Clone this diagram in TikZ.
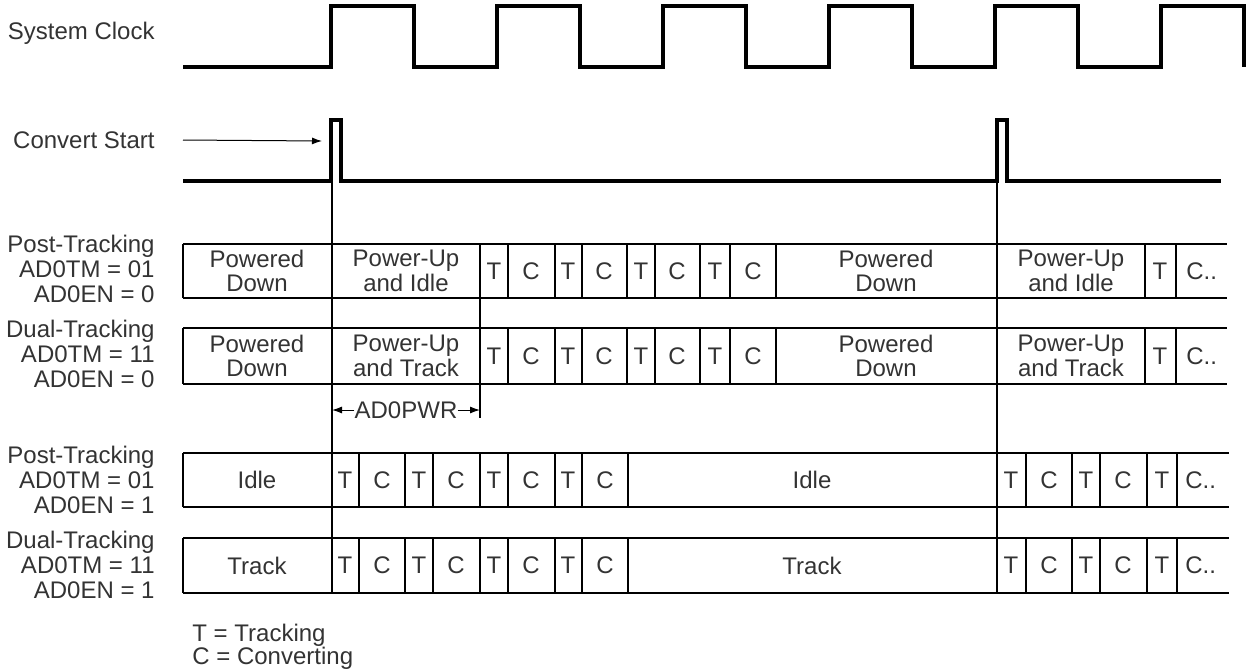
\documentclass[tikz,border=0pt]{standalone}
\usepackage{fontspec}
\setmainfont{Liberation Sans}
\usetikzlibrary{arrows.meta}
\begin{document}
\begin{tikzpicture}[x=0.5pt,y=-0.5pt,
    font=\fontsize{12}{12.4}\selectfont,text=black!80,
    sig/.style={line width=1.6pt,line join=miter},
    cell/.style={line width=1pt},
    tline/.style={line width=0.7pt},
    arr/.style={line width=0.5pt,-{Latex[length=5pt,width=3.5pt]}},
    lab/.style={align=right,anchor=east,inner sep=0pt},
    txt/.style={align=center,inner sep=0pt}]
  \useasboundingbox (0,0) rectangle (1249,671);

  % clock and start pulse
  \node[lab] (clk) at (155,33) {System Clock};
  \draw[sig] (183,67) \foreach \x in {331,497,663,829,995,1161} { -- (\x,67) -- (\x,6) -- (\x+83,6) -- (\x+83,67) };

  \node[lab] (cnv) at (155,140) {Convert Start};
  \coordinate (cs1) at (322,141);
  \draw[arr] ([xshift=14pt]cnv.east) -- (cs1);
  \draw[sig] (183,181) -- (331,181) -- (331,120) -- (341,120) -- (341,181)
    -- (997,181) -- (997,120) -- (1007,120) -- (1007,181) -- (1221,181);

  % markers
  \draw[tline] (332,181) -- (332,593);
  \draw[tline] (997,181) -- (997,593);
  \draw[tline] (480,244) -- (480,418);

  % AD0EN = 0
  \foreach \ya/\yb/\pu in {244/298/Idle,328/384/Track} {
    \draw[cell] (183,\ya) -- (1227,\ya) (183,\yb) -- (1227,\yb);
    \foreach \x in {183,332,480,508,555,582,627,655,700,730,776,997,1145,1176}
      \draw[cell] (\x,\ya) -- (\x,\yb);
    \node[txt] (pd-\ya) at (257,{(\ya+\yb)/2}) {Powered\\Down};
    \node[txt] (pu-\ya) at (406,{(\ya+\yb)/2}) {Power-Up\\and \pu};
    \node[txt] (pdb-\ya) at (886,{(\ya+\yb)/2}) {Powered\\Down};
    \node[txt] (pub-\ya) at (1071,{(\ya+\yb)/2}) {Power-Up\\and \pu};
    \foreach \x/\t [count=\i] in {494/T,531/C,568/T,604/C,641/T,677/C,715/T,753/C,1160/T}
      \node[txt] (tc-\ya-\i) at (\x,{(\ya+\yb)/2}) {\t};
    \node[txt,anchor=west] (more-\ya) at (1186,{(\ya+\yb)/2}) {C..};
  }

  \node[txt] (pwr) at (406,410) {AD0PWR};
  \coordinate (pwra) at (332,410);
  \coordinate (pwrb) at (480,410);
  \draw[arr] (pwr.west) -- (pwra);
  \draw[arr] (pwr.east) -- (pwrb);

  % AD0EN = 1
  \foreach \ya/\yb/\st in {453/507/Idle,538/593/Track} {
    \draw[cell] (183,\ya) -- (1229,\ya) (183,\yb) -- (1229,\yb);
    \foreach \x in {183,332,359,405,433,480,508,555,582,628,997,1026,1072,1100,1147,1177}
      \draw[cell] (\x,\ya) -- (\x,\yb);
    \node[txt] (st-\ya) at (257,{(\ya+\yb)/2}) {\st};
    \node[txt] (stb-\ya) at (812,{(\ya+\yb)/2}) {\st};
    \foreach \x/\t [count=\i] in {345/T,382/C,419/T,456/C,494/T,531/C,568/T,605/C,1011/T,1049/C,1086/T,1123/C,1162/T}
      \node[txt] (tc-\ya-\i) at (\x,{(\ya+\yb)/2}) {\t};
    \node[txt,anchor=west] (more-\ya) at (1185,{(\ya+\yb)/2}) {C..};
  }

  % mode labels
  \node[lab] (m1) at (155,269) {Post-Tracking\\AD0TM = 01\\AD0EN = 0};
  \node[lab] (m2) at (155,354) {Dual-Tracking\\AD0TM = 11\\AD0EN = 0};
  \node[lab] (m3) at (155,480) {Post-Tracking\\AD0TM = 01\\AD0EN = 1};
  \node[lab] (m4) at (155,565) {Dual-Tracking\\AD0TM = 11\\AD0EN = 1};

  \node[anchor=west,inner sep=0pt] (legt) at (192,635) {T = Tracking};
  \node[anchor=west,inner sep=0pt] (legc) at (192,658) {C = Converting};
\end{tikzpicture}
\end{document}
